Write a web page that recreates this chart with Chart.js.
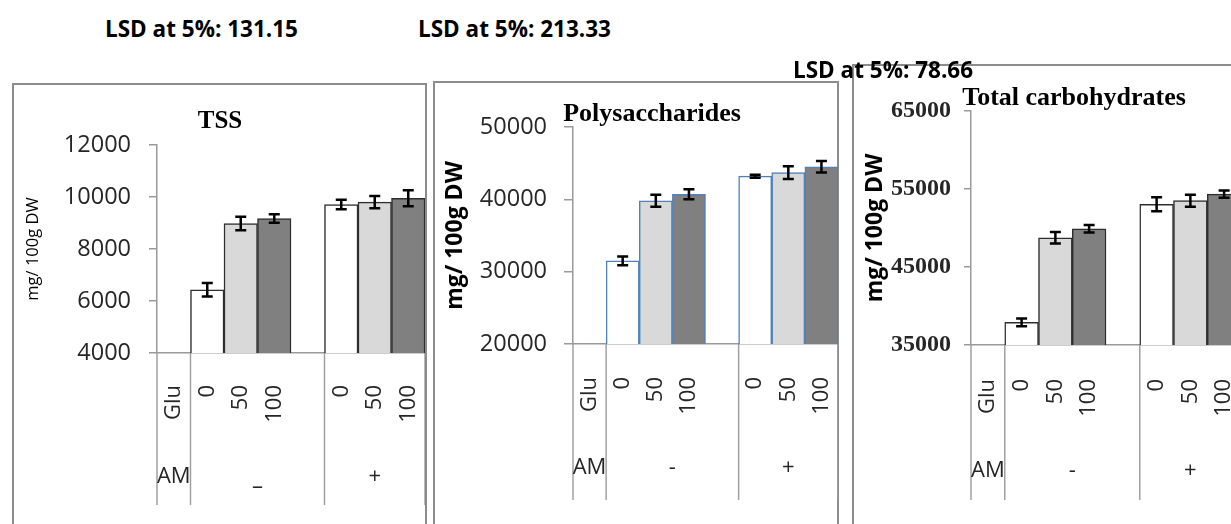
<!DOCTYPE html>
<html>
<head>
<meta charset="utf-8">
<script src="https://cdn.jsdelivr.net/npm/chart.js@4.4.1/dist/chart.umd.min.js"></script>
<style>
  html, body { margin: 0; padding: 0; background: #fff; }
  body { width: 1231px; height: 524px; position: relative; overflow: hidden; }
  .panel { position: absolute; box-sizing: border-box; border: 2px solid #8c8c8c; background: #fff; }
  canvas { position: absolute; }
  .lsd { position: absolute; font: bold 22.5px "Open Sans", sans-serif; color: #000; white-space: nowrap; line-height: 1; }
  .ptitle { position: absolute; font-family: "Liberation Serif", serif; font-weight: bold; color: #000;
            white-space: nowrap; line-height: 1; transform: translate(-50%, -50%); }
</style>
</head>
<body>
<div class="panel" style="left:12px;top:83px;width:415px;height:470px;"></div>
<div class="panel" style="left:433px;top:81px;width:406px;height:470px;"></div>
<div class="panel" style="left:852px;top:64px;width:420px;height:490px;"></div>

<canvas id="tss" width="411" height="439" style="left:14px;top:85px;width:411px;height:439px;"></canvas>
<canvas id="poly" width="403" height="440" style="left:435px;top:84px;width:403px;height:440px;"></canvas>
<canvas id="carb" width="386" height="457" style="left:855px;top:67px;width:386px;height:457px;"></canvas>

<div class="lsd" id="lsd0" style="left:105px;top:18px;"></div>
<div class="lsd" id="lsd1" style="left:418px;top:18px;"></div>
<div class="lsd" id="lsd2" style="left:793px;top:59px;"></div>

<div class="ptitle" id="t0" style="left:220px;top:119px;font-size:25px;"></div>
<div class="ptitle" id="t1" style="left:652px;top:113px;font-size:26px;"></div>
<div class="ptitle" id="t2" style="left:1074px;top:97px;font-size:26px;"></div>

<script>
// Glutamine levels (lower row) inside the AM groups (upper row)
const categories = ['Glu', '0', '50', '100', '', '0', '50', '100'];
const amLabels = ['AM', '-', '+'];
const barColors = ['#ffffff', '#ffffff', '#d9d9d9', '#808080', '#ffffff', '#ffffff', '#d9d9d9', '#808080'];

const panelTitles = ['TSS', 'Polysaccharides', 'Total carbohydrates'];
const lsdValues = ['131.15', '213.33', '78.66'];
const yAxisTitle = 'mg/ 100g DW';

// mg / 100 g DW, means and standard errors
const tssMeans   = [null, 6430, 8980, 9170, null, 9710, 9800, 9950];
const tssErrors  = [null, 260, 260, 165, null, 185, 235, 305];
const polyMeans  = [null, 31500, 39800, 40700, null, 43200, 43700, 44500];
const polyErrors = [null, 600, 830, 690, null, 200, 880, 800];
const carbMeans  = [null, 37900, 48750, 49900, null, 53050, 53500, 54350];
const carbErrors = [null, 490, 750, 470, null, 900, 770, 470];

// y-axis ranges: [min, max, step]
const tssRange  = [4000, 12000, 2000];
const polyRange = [20000, 50000, 10000];
const carbRange = [35000, 65000, 10000];

lsdValues.forEach((v, i) => { document.getElementById('lsd' + i).textContent = 'LSD at 5%: ' + v; });
panelTitles.forEach((t, i) => { document.getElementById('t' + i).textContent = t; });

// group spans over category indices: [start, end)
const groupSpans = [[0, 1], [1, 5], [5, 8]];
const dividerAt = [0, 1, 5, 8];

function extrasPlugin(errors, cfg) {
  return {
    id: 'extras',
    afterDatasetsDraw(chart) {
      const ctx = chart.ctx;
      const x = chart.scales.x, y = chart.scales.y;
      const vals = chart.data.datasets[0].data;
      ctx.save();
      ctx.beginPath();
      ctx.rect(chart.chartArea.left, 0, chart.chartArea.right - chart.chartArea.left, chart.height);
      ctx.clip();
      ctx.strokeStyle = '#000';
      ctx.lineWidth = 2.5;
      vals.forEach((v, i) => {
        if (v == null) return;
        const px = x.getPixelForValue(i);
        const top = y.getPixelForValue(v + errors[i]);
        const bot = y.getPixelForValue(v - errors[i]);
        ctx.beginPath();
        ctx.moveTo(px, top); ctx.lineTo(px, bot);
        ctx.moveTo(px - 5.5, top); ctx.lineTo(px + 5.5, top);
        ctx.moveTo(px - 5.5, bot); ctx.lineTo(px + 5.5, bot);
        ctx.stroke();
      });
      ctx.restore();
    },
    afterDraw(chart) {
      const ctx = chart.ctx;
      const x = chart.scales.x;
      const base = chart.chartArea.bottom;
      const half = x.width / categories.length / 2;
      const edge = (i) => i < categories.length ? x.getPixelForValue(i) - half : x.getPixelForValue(categories.length - 1) + half;
      ctx.save();
      ctx.strokeStyle = '#a0a0a0';
      ctx.lineWidth = 1.5;
      dividerAt.forEach((b) => {
        const px = edge(b);
        ctx.beginPath();
        ctx.moveTo(px, base);
        ctx.lineTo(px, base + cfg.dividerLen);
        ctx.stroke();
      });
      ctx.fillStyle = '#262626';
      ctx.font = '22px "Open Sans"';
      ctx.textAlign = 'center';
      ctx.textBaseline = 'middle';
      groupSpans.forEach((g, k) => {
        const cx = (edge(g[0]) + edge(g[1])) / 2;
        const text = cfg.groupText ? cfg.groupText[k] : amLabels[k];
        const dy = cfg.groupDy ? cfg.groupDy[k] : 0;
        ctx.fillText(text, cx, base + cfg.labelOffset + dy);
      });
      ctx.restore();
    }
  };
}

function makeChart(id, means, errors, range, o) {
  new Chart(document.getElementById(id), {
    type: 'bar',
    data: {
      labels: categories,
      datasets: [{
        data: means,
        backgroundColor: barColors,
        borderColor: o.barBorder,
        borderWidth: 1.5,
        barPercentage: 1,
        categoryPercentage: 1
      }]
    },
    options: {
      responsive: false,
      animation: false,
      devicePixelRatio: 1,
      layout: { padding: { left: 0, right: 0, top: o.padTop, bottom: 0 } },
      plugins: { legend: { display: false }, tooltip: { enabled: false } },
      scales: {
        x: {
          grid: { display: false },
          border: { display: true, color: '#9a9a9a', width: 1.5 },
          ticks: {
            autoSkip: false, minRotation: 90, maxRotation: 90,
            padding: o.xPad, color: '#262626',
            font: { family: 'Open Sans', size: 22 }
          },
          afterFit: (s) => { s.height = o.xHeight; s.paddingLeft = 0; s.paddingRight = 0; }
        },
        y: {
          min: range[0], max: range[1],
          grid: { drawOnChartArea: false, drawTicks: true, tickLength: o.tickLen, color: '#9a9a9a', lineWidth: 1.5 },
          border: { display: true, color: '#9a9a9a', width: 1.5 },
          ticks: {
            stepSize: range[2], padding: o.yPad, color: '#262626',
            font: o.yFont,
            callback: (v) => String(v)
          },
          title: {
            display: true, text: yAxisTitle, color: '#000',
            font: o.titleFont, padding: { top: o.titlePad, bottom: 0 }
          },
          afterFit: (s) => { s.width = o.yWidth; s.paddingTop = 0; s.paddingBottom = 0; }
        }
      }
    },
    plugins: [extrasPlugin(errors, o)]
  });
}

makeChart('tss', tssMeans, tssErrors, tssRange, {
  barBorder: '#2e2e2e', padTop: 60, xHeight: 171, xPad: 24, tickLen: 8, yPad: 18, yWidth: 143,
  yFont: { family: 'Open Sans', size: 23.5 },
  titleFont: { family: 'Open Sans', size: 16.5 }, titlePad: 9,
  dividerLen: 152, labelOffset: 124, groupText: ['AM', '\u2013', '+'], groupDy: [0, 10, 0]
});

makeChart('poly', polyMeans, polyErrors, polyRange, {
  barBorder: '#4f81bd', padTop: 43, xHeight: 180, xPad: 25, tickLen: 9, yPad: 17, yWidth: 138,
  yFont: { family: 'Open Sans', size: 23.5 },
  titleFont: { family: 'Open Sans', size: 23, weight: 'bold' }, titlePad: 7,
  dividerLen: 156, labelOffset: 124
});

makeChart('carb', carbMeans, carbErrors, carbRange, {
  barBorder: '#2e2e2e', padTop: 44, xHeight: 179, xPad: 26, tickLen: 7, yPad: 13, yWidth: 116,
  yFont: { family: 'Liberation Serif', size: 24, weight: 'bold' },
  titleFont: { family: 'Open Sans', size: 23, weight: 'bold' }, titlePad: 7,
  dividerLen: 155, labelOffset: 126
});
</script>
</body>
</html>
